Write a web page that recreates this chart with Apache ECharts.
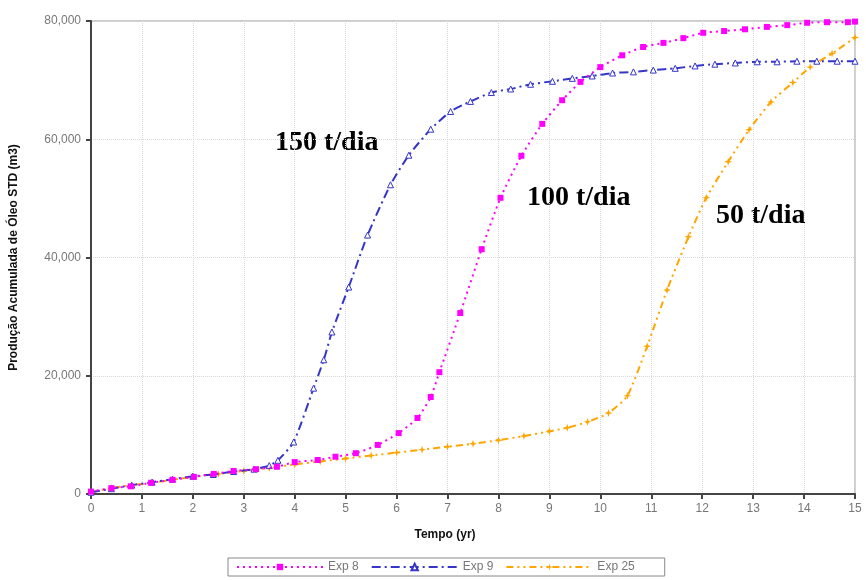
<!DOCTYPE html>
<html>
<head>
<meta charset="utf-8">
<script src="https://cdn.jsdelivr.net/npm/echarts@6/dist/echarts.min.js"></script>
<style>
  html, body { margin: 0; padding: 0; background: #fff; }
  #chart { width: 866px; height: 580px; }
</style>
</head>
<body>
<div id="chart"></div>
<script>
// Exp 8 (100 t/dia)
const exp8Time = [0, 0.4, 0.78, 1.18, 1.6, 2.02, 2.41, 2.8, 3.24, 3.65, 4.0, 4.45, 4.8, 5.2, 5.63, 6.04, 6.41, 6.67, 6.84, 7.25, 7.67, 8.04, 8.45, 8.86, 9.25, 9.61, 10.0, 10.43, 10.84, 11.24, 11.63, 12.02, 12.43, 12.84, 13.27, 13.67, 14.06, 14.45, 14.86, 15];
const exp8Prod = [400, 1000, 1300, 1900, 2400, 2900, 3400, 3900, 4200, 4600, 5400, 5750, 6300, 6900, 8300, 10300, 12850, 16400, 20600, 30600, 41400, 50100, 57200, 62600, 66600, 69700, 72200, 74200, 75600, 76300, 77100, 78000, 78300, 78600, 79000, 79300, 79700, 79800, 79800, 79900];

// Exp 9 (150 t/dia)
const exp9Time = [0, 0.4, 0.8, 1.2, 1.6, 2.0, 2.4, 2.8, 3.2, 3.5, 3.67, 3.98, 4.37, 4.57, 4.73, 5.06, 5.43, 5.88, 6.24, 6.67, 7.06, 7.45, 7.86, 8.24, 8.63, 9.06, 9.45, 9.84, 10.24, 10.65, 11.04, 11.47, 11.86, 12.25, 12.65, 13.08, 13.47, 13.86, 14.25, 14.65, 15];
const exp9Prod = [300, 900, 1500, 2000, 2500, 3000, 3300, 3800, 4200, 4800, 5700, 8800, 17900, 22700, 27400, 35000, 43800, 52300, 57300, 61700, 64700, 66400, 67900, 68500, 69300, 69800, 70300, 70700, 71200, 71400, 71700, 72000, 72400, 72700, 72900, 73100, 73100, 73200, 73200, 73200, 73200];

// Exp 25 (50 t/dia)
const exp25Time = [0, 0.4, 0.8, 1.2, 1.6, 2.0, 2.5, 3.0, 3.5, 4.0, 4.5, 5.0, 5.5, 6.0, 6.5, 7.0, 7.5, 8.0, 8.5, 9.0, 9.35, 9.75, 10.16, 10.53, 10.92, 11.31, 11.73, 12.08, 12.51, 12.92, 13.35, 13.78, 14.12, 14.55, 15];
const exp25Prod = [300, 1000, 1500, 1900, 2400, 2900, 3400, 3900, 4400, 5000, 5500, 6000, 6500, 7000, 7500, 8000, 8500, 9100, 9800, 10600, 11200, 12200, 13700, 16600, 25000, 34500, 43500, 50100, 56200, 61600, 66300, 69600, 72200, 74500, 77200];

const seriesNames = ["Exp 8", "Exp 9", "Exp 25"];
const xTicks = [0, 15, 1];
const yTicks = [0, 80000, 20000];
const notes = ["150 t/dia", "100 t/dia", "50 t/dia"];

const pair = (xs, ys) => xs.map((x, i) => [x, ys[i]]);

const starPath = "path://M5,0 L6.2,3.8 L10,5 L6.2,6.2 L5,10 L3.8,6.2 L0,5 L3.8,3.8 Z";
const noteFont = "Liberation Serif, Times New Roman, serif";

const chart = echarts.init(document.getElementById("chart"));

const option = {
  animation: false,
  backgroundColor: "#fff",
  textStyle: { fontFamily: "Liberation Sans, Arial, sans-serif" },
  grid: {
    left: 90,
    right: 11,
    top: 21,
    bottom: 86,
    show: true,
    borderColor: "#9a9a9a",
    borderWidth: 1,
  },
  legend: {
    left: 228,
    top: 558,
    padding: [3, 30, 3, 8],
    borderColor: "#888",
    borderWidth: 1,
    itemWidth: 86,
    itemHeight: 8,
    itemGap: 12,
    textStyle: { color: "#777", fontSize: 12, fontFamily: "Liberation Sans, Arial, sans-serif" },
    data: seriesNames,
  },
  xAxis: {
    type: "value",
    min: xTicks[0],
    max: xTicks[1],
    interval: xTicks[2],
    name: "Tempo (yr)",
    nameLocation: "middle",
    nameGap: 35,
    nameTextStyle: { color: "#111", fontWeight: "bold", fontSize: 12, padding: [0, 56, 0, 0] },
    axisLine: { lineStyle: { color: "#444", width: 2 } },
    axisTick: { show: true, length: 5, lineStyle: { color: "#444", width: 2 } },
    axisLabel: { color: "#777", fontSize: 12, margin: 9 },
    splitLine: { show: true, lineStyle: { color: "#d8d8d8", type: "dotted", width: 1 } },
  },
  yAxis: {
    type: "value",
    min: yTicks[0],
    max: yTicks[1],
    interval: yTicks[2],
    name: "Produção Acumulada de Óleo STD (m3)",
    nameLocation: "middle",
    nameGap: 71,
    nameTextStyle: { color: "#111", fontWeight: "bold", fontSize: 12 },
    axisLine: { show: true, lineStyle: { color: "#444", width: 2 } },
    axisTick: { show: true, length: 5, lineStyle: { color: "#444", width: 2 } },
    axisLabel: {
      color: "#777",
      fontSize: 12,
      margin: 10,
      formatter: (v) => v.toLocaleString("en-US"),
    },
    splitLine: { show: true, lineStyle: { color: "#d8d8d8", type: "dotted", width: 1 } },
  },
  series: [
    {
      name: seriesNames[0],
      type: "line",
      data: pair(exp8Time, exp8Prod),
      smooth: 0.2,
      symbol: "rect",
      symbolSize: 6,
      showAllSymbol: true,
      lineStyle: { color: "#ff00ff", width: 2, type: [2, 4] },
      itemStyle: { color: "#ff00ff" },
      z: 3,
    },
    {
      name: seriesNames[1],
      type: "line",
      data: pair(exp9Time, exp9Prod),
      smooth: 0.2,
      symbol: "triangle",
      symbolSize: 6,
      showAllSymbol: true,
      lineStyle: { color: "#3535c8", width: 2, type: [9, 4, 2, 4] },
      itemStyle: { color: "#fff", borderColor: "#3535c8", borderWidth: 1 },
      z: 2,
    },
    {
      name: seriesNames[2],
      type: "line",
      data: pair(exp25Time, exp25Prod),
      smooth: 0.2,
      symbol: starPath,
      symbolSize: 8,
      showAllSymbol: true,
      lineStyle: { color: "#ffa500", width: 2, type: [7, 4, 2, 4, 2, 4] },
      itemStyle: { color: "#ffa500" },
      z: 1,
    },
  ],
  graphic: [
    { type: "text", left: 275, top: 129, style: { text: notes[0], font: "bold 28px " + noteFont, fill: "#000" } },
    { type: "text", left: 527, top: 184, style: { text: notes[1], font: "bold 28px " + noteFont, fill: "#000" } },
    { type: "text", left: 716, top: 202, style: { text: notes[2], font: "bold 28px " + noteFont, fill: "#000" } },
  ],
};

chart.setOption(option);
</script>
</body>
</html>
